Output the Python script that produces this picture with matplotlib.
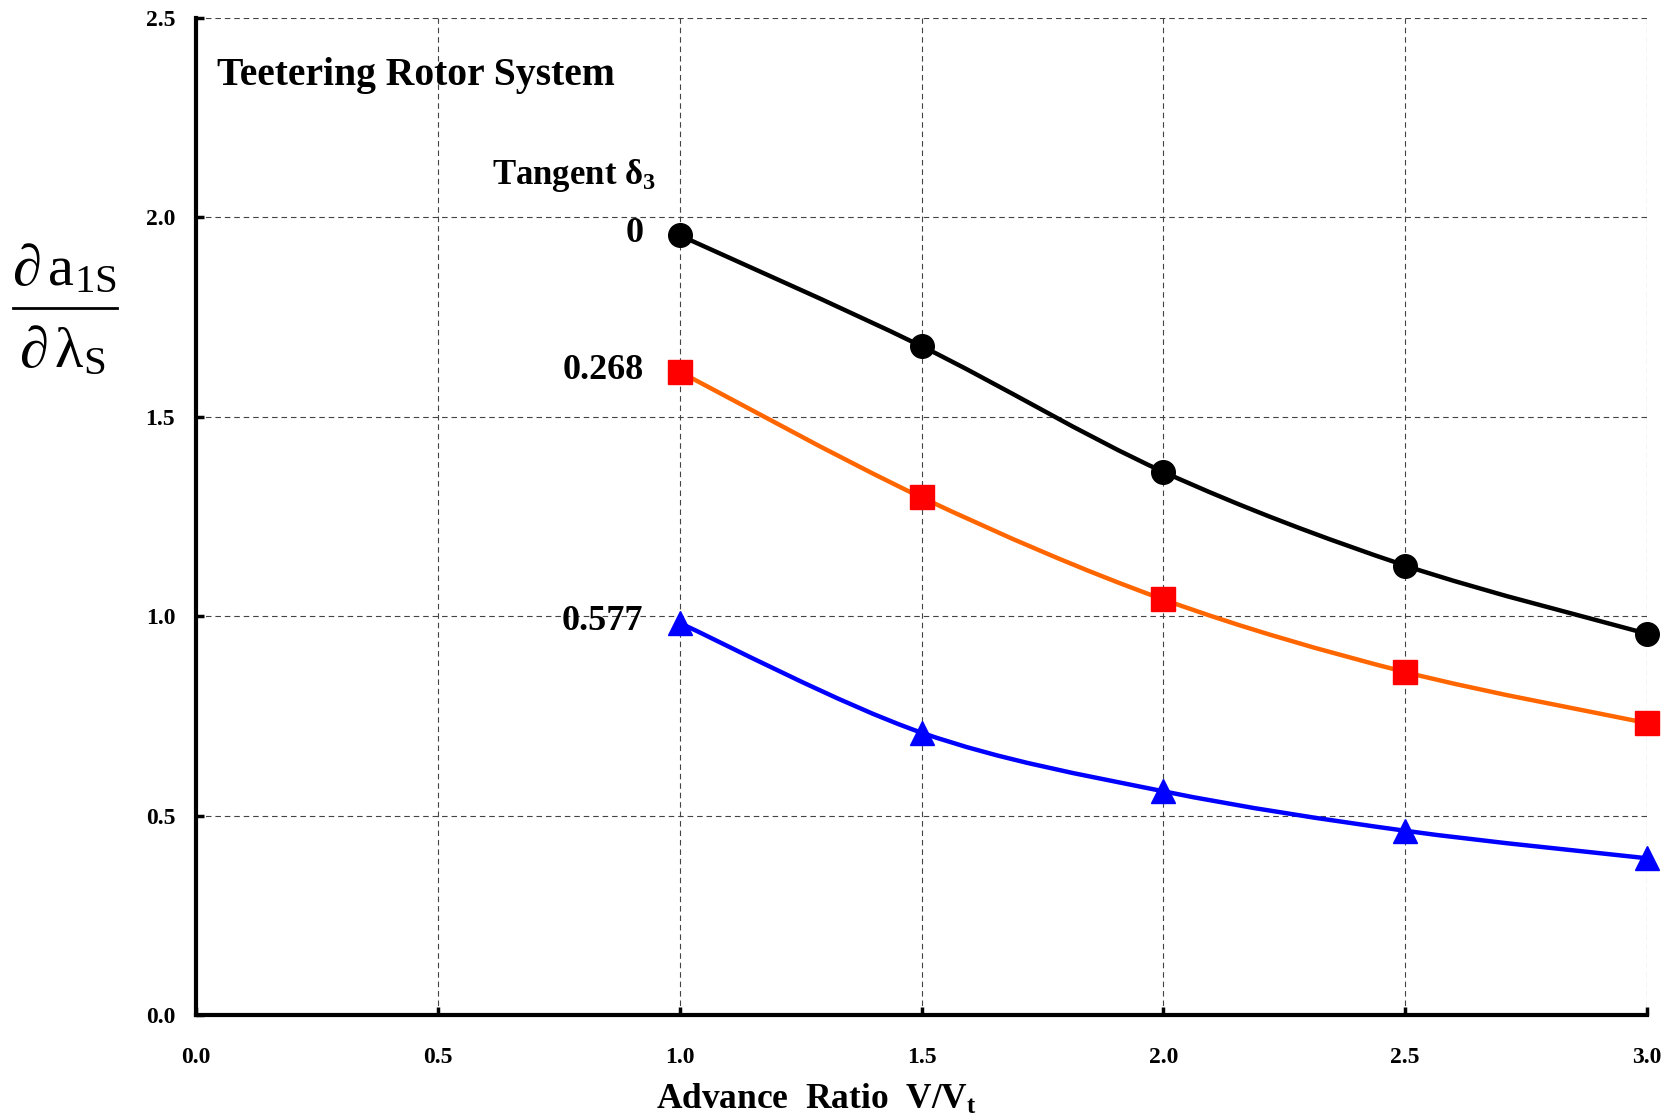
import numpy as np
import matplotlib
matplotlib.use('Agg')
import matplotlib.pyplot as plt
from matplotlib.path import Path
from matplotlib.patches import PathPatch
from matplotlib.lines import Line2D

plt.rcParams['font.family'] = 'Liberation Serif'
plt.rcParams['font.weight'] = 'bold'
plt.rcParams['mathtext.fontset'] = 'custom'
plt.rcParams['mathtext.rm'] = 'Liberation Serif:weight=normal'
plt.rcParams['mathtext.it'] = 'Liberation Serif:italic:weight=normal'
plt.rcParams['mathtext.bf'] = 'Liberation Serif:bold'

# advance ratio
mu = [1.0, 1.5, 2.0, 2.5, 3.0]
tan_d3_labels = ['0', '0.268', '0.577']
deriv_0 = [1.955, 1.677, 1.362, 1.127, 0.956]
deriv_268 = [1.613, 1.298, 1.042, 0.860, 0.732]
deriv_577 = [0.983, 0.708, 0.561, 0.462, 0.393]

xticks = [0.0, 0.5, 1.0, 1.5, 2.0, 2.5, 3.0]
yticks = [0.0, 0.5, 1.0, 1.5, 2.0, 2.5]


def smooth_path(x, y):
    # excel-like smoothed line (bezier through the points)
    pts = np.column_stack([x, y])
    n = len(pts)
    verts = [pts[0]]
    codes = [Path.MOVETO]
    for i in range(n - 1):
        p0 = pts[max(i - 1, 0)]
        p1 = pts[i]
        p2 = pts[i + 1]
        p3 = pts[min(i + 2, n - 1)]
        verts += [p1 + (p2 - p0) / 6, p2 - (p3 - p1) / 6, p2]
        codes += [Path.CURVE4] * 3
    return Path(verts, codes)


fig = plt.figure(figsize=(16.7, 11.2), dpi=100)
ax = fig.add_axes([196 / 1670, 1 - 1015 / 1120, 1451 / 1670, 997 / 1120])

series = [
    (deriv_0, 'black', 'black', 'o'),
    (deriv_268, '#FF6600', '#FF0000', 's'),
    (deriv_577, '#0000FF', '#0000FF', '^'),
]
for (vals, lc, mc, mk), lab in zip(series, tan_d3_labels):
    ax.add_patch(PathPatch(smooth_path(mu, vals), facecolor='none',
                           edgecolor=lc, lw=3.2, zorder=3))
    ax.plot(mu, vals, ls='none', marker=mk, ms=17, color=mc, zorder=4,
            clip_on=False)
    ax.annotate(lab, (mu[0], vals[0]), xytext=(-26, 1), textcoords='offset points',
                ha='right', va='center', fontsize=26, fontweight='bold')

ax.set_xlim(0, 3)
ax.set_ylim(0, 2.5)
ax.set_xticks(xticks)
ax.set_yticks(yticks)
ax.set_xticklabels(['%.1f' % v for v in xticks])
ax.set_yticklabels(['%.1f' % v for v in yticks])
ax.tick_params(direction='in', length=6, width=2.5, labelsize=17)
ax.tick_params(axis='x', pad=23)
ax.tick_params(axis='y', pad=15)
ax.grid(True, ls=(0, (5, 3.5)), lw=0.8, color='#444444')
for s in ['top', 'right']:
    ax.spines[s].set_visible(False)
for s in ['left', 'bottom']:
    ax.spines[s].set_linewidth(3)

ax.text(0.043, 2.357, 'Teetering Rotor System', fontsize=28.5, fontweight='bold',
        va='center', ha='left')
ax.text(0.612, 2.084, r'Tangent δ$_\mathbf{3}$', fontsize=25, fontweight='bold',
        va='baseline', ha='left')

fig.text(816 / 1670, 1 - 1100 / 1120, r'Advance  Ratio  V/V$_\mathbf{t}$',
         fontsize=25.5, fontweight='bold', ha='center', va='center')

# y label as a stacked fraction
fig.text(64 / 1670, 1 - 285 / 1120, r'$\mathrm{\partial\,a}_{\mathrm{1S}}$',
         fontsize=42, fontweight='normal', ha='center', va='baseline')
fig.add_artist(Line2D([13 / 1670, 117 / 1670], [1 - 308 / 1120] * 2,
                      lw=2, color='black'))
fig.text(62 / 1670, 1 - 367 / 1120, r'$\mathrm{\partial\,\lambda}_{\mathrm{S}}$',
         fontsize=42, fontweight='normal', ha='center', va='baseline')

fig.savefig('out.png', dpi=100)
